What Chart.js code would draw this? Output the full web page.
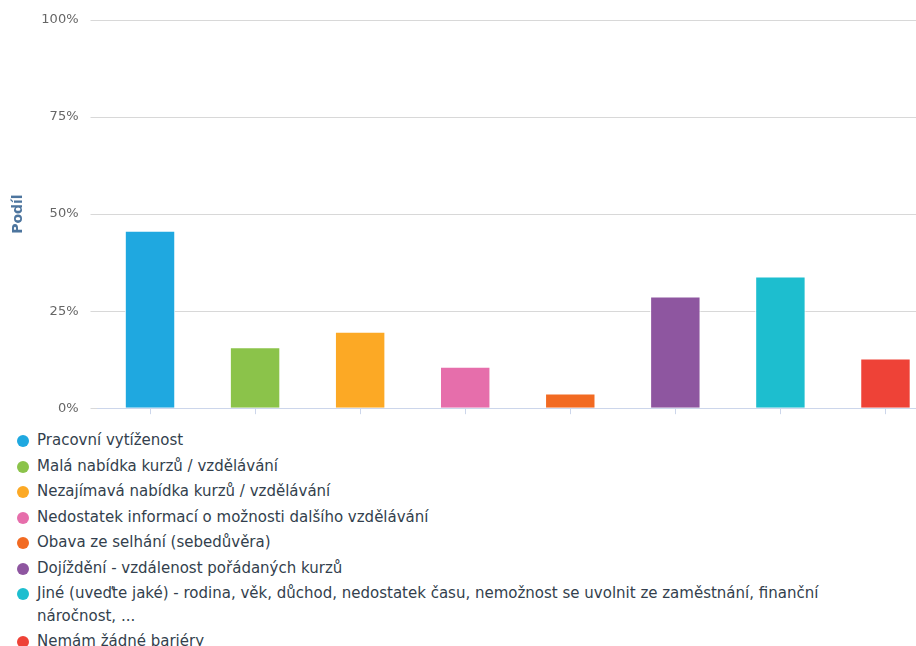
<!DOCTYPE html>
<html lang="cs">
<head>
    <meta charset="UTF-8">
    <title>Bariéry vzdělávání</title>
    <script src="https://cdn.jsdelivr.net/npm/chart.js"></script>
    <style>
        body {
            margin: 0;
            overflow: hidden;
            background: #fff;
            font-family: 'DejaVu Sans', sans-serif;
        }
        #wrap {
            position: absolute;
            left: 0;
            top: 0;
            width: 938px;
            height: 428px;
        }
        #legend {
            position: absolute;
            left: 17px;
            top: 429px;
            margin: 0;
            padding: 0;
            list-style: none;
            font-size: 15px;
            color: #333f4d;
        }
        #legend li {
            position: relative;
            padding-left: 20px;
            line-height: 22.5px;
            margin-bottom: 3px;
            max-width: 790px;
        }
        #legend .dot {
            position: absolute;
            left: 0;
            top: 6px;
            width: 12px;
            height: 12px;
            border-radius: 50%;
        }
    </style>
</head>
<body>
    <div id="wrap"><canvas id="myChart"></canvas></div>
    <ul id="legend"></ul>

    <script>
        // data
        const categories = [
            'Pracovní vytíženost',
            'Malá nabídka kurzů / vzdělávání',
            'Nezajímavá nabídka kurzů / vzdělávání',
            'Nedostatek informací o možnosti dalšího vzdělávání',
            'Obava ze selhání (sebedůvěra)',
            'Dojíždění - vzdálenost pořádaných kurzů',
            'Jiné (uveďte jaké) - rodina, věk, důchod, nedostatek času, nemožnost se uvolnit ze zaměstnání, finanční náročnost, ...',
            'Nemám žádné bariéry'
        ];
        const shares = [45.7, 15.7, 19.7, 10.7, 3.8, 28.8, 33.9, 12.8];
        const colors = ['#1fa8e0', '#8bc34a', '#fca925', '#e66eab', '#f26a22', '#8e56a0', '#1dbecf', '#ee4237'];
        const yTicks = [0, 25, 50, 75, 100];
        const yTitle = 'Podíl';

        const ctx = document.getElementById('myChart').getContext('2d');

        const myChart = new Chart(ctx, {
            type: 'bar',
            data: {
                labels: categories,
                datasets: [{
                    label: yTitle,
                    data: shares,
                    backgroundColor: colors,
                    borderColor: '#ffffff',
                    borderWidth: 1,
                    categoryPercentage: 1,
                    barPercentage: 0.48
                }]
            },
            options: {
                responsive: true,
                maintainAspectRatio: false,
                animation: false,
                layout: { padding: { top: 20, left: 0, right: 0, bottom: 0 } },
                plugins: {
                    legend: { display: false },
                    tooltip: { enabled: false }
                },
                scales: {
                    x: {
                        grid: {
                            offset: false,
                            drawOnChartArea: false,
                            drawTicks: true,
                            tickLength: 6,
                            color: '#ccd6eb'
                        },
                        border: { color: '#ccd6eb', width: 1 },
                        ticks: { display: false },
                        afterFit: (scale) => { scale.height = 12; }
                    },
                    y: {
                        min: 0,
                        max: 100,
                        afterBuildTicks: (scale) => {
                            scale.ticks = yTicks.map(v => ({ value: v }));
                        },
                        grid: {
                            color: '#d8d8d8',
                            tickLength: 7
                        },
                        border: { display: false },
                        ticks: {
                            padding: 12,
                            color: '#666666',
                            font: { family: 'DejaVu Sans', size: 13 },
                            callback: (v) => v + '%'
                        },
                        title: {
                            display: true,
                            text: yTitle,
                            color: '#4d759e',
                            font: { family: 'DejaVu Sans', size: 14, weight: 'bold' },
                            padding: { top: 10, bottom: 0 }
                        },
                        afterFit: (scale) => { scale.width = 97.5; }
                    }
                }
            }
        });

        // legend
        const legend = document.getElementById('legend');
        categories.forEach((name, i) => {
            const li = document.createElement('li');
            const dot = document.createElement('span');
            dot.className = 'dot';
            dot.style.background = colors[i];
            li.appendChild(dot);
            li.appendChild(document.createTextNode(name));
            legend.appendChild(li);
        });
    </script>
</body>
</html>
